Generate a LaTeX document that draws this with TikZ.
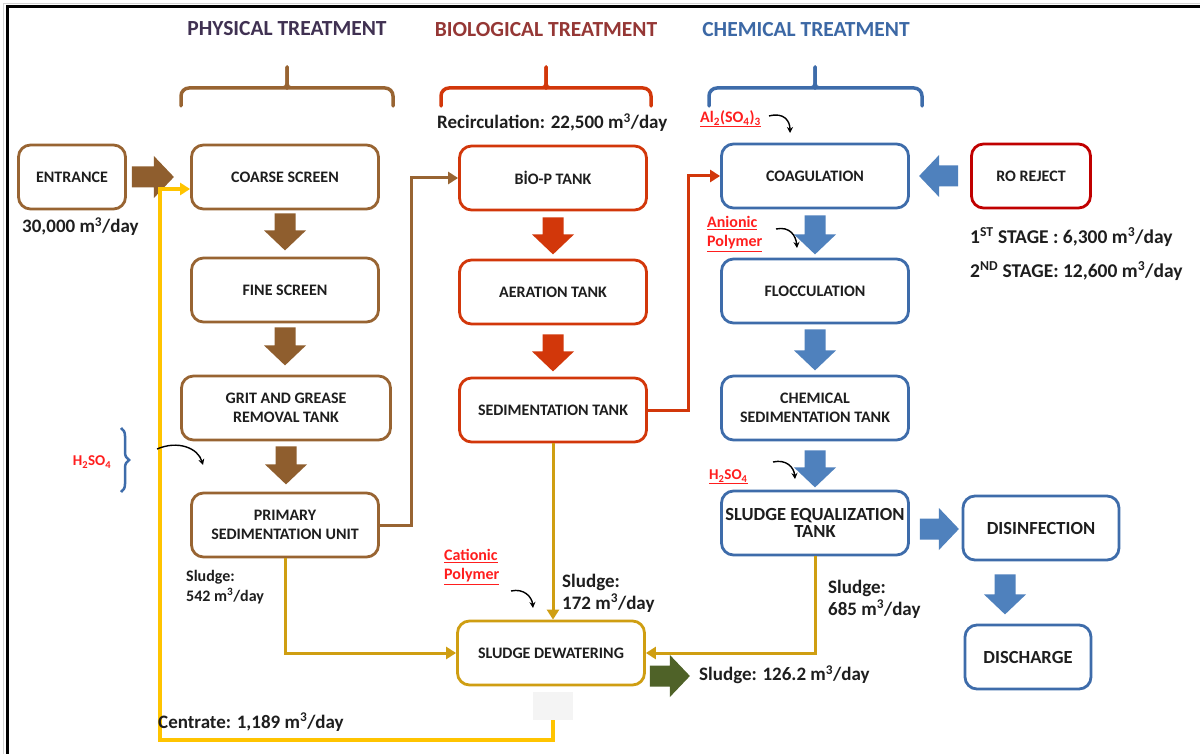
\documentclass[tikz,border=0pt]{standalone}
\usepackage{fontspec}
\setmainfont{Carlito}
\usetikzlibrary{arrows.meta,calc,decorations.pathreplacing}

\definecolor{brn}{RGB}{152,100,50}
\definecolor{brnA}{RGB}{143,94,46}
\definecolor{rd}{RGB}{210,55,10}
\definecolor{blu}{RGB}{62,108,170}
\definecolor{bluA}{RGB}{79,129,189}
\definecolor{roRed}{RGB}{192,0,0}
\definecolor{gold}{RGB}{207,158,18}
\definecolor{yel}{RGB}{255,196,0}
\definecolor{grn}{RGB}{79,98,40}
\definecolor{hphys}{RGB}{64,49,82}
\definecolor{hbio}{RGB}{149,55,53}
\definecolor{hchem}{RGB}{60,104,165}
\definecolor{txt}{RGB}{30,30,30}
\definecolor{chem}{RGB}{255,30,30}

\tikzset{
  pics/blk/.style 2 args={code={
    \fill[#1] (0,-10.5) -- (#2-20,-10.5) -- (#2-20,-21) -- (#2,0) -- (#2-20,21) -- (#2-20,10.5) -- (0,10.5) -- cycle;}},
  box/.style={draw, line width=2.8pt, rounded corners=12pt, minimum width=187pt, minimum height=64pt,
    align=center, font=\bfseries\fontsize{16}{19}\selectfont, text=txt, fill=white, inner sep=2pt},
  bigbox/.style={box, font=\bfseries\fontsize{18.5}{17}\selectfont},
  lbl/.style={font=\bfseries\fontsize{19}{22}\selectfont, text=txt, inner sep=0pt, align=left},
  chemlbl/.style={font=\bfseries\fontsize{16}{19}\selectfont, text=chem, inner sep=0pt, align=left},
  hdr/.style={font=\bfseries\fontsize{21.5}{24}\selectfont, inner sep=0pt},
  brace/.style={line width=3.5pt, line cap=round},
  carr/.style={-{Stealth[length=6pt,width=6pt]}, line width=1.4pt, black},
  flowline/.style={line width=3pt, -{Triangle[length=10pt,width=12pt]}},
}

\begin{document}
\begin{tikzpicture}[x=1pt,y=-1pt]
\useasboundingbox (0,0) rectangle (1200,754);
\fill[white] (0,0) rectangle (1200,754);
% frame
\draw[gray!35, line width=1pt] (3.5,754) -- (3.5,3.5) -- (1200,3.5);
\draw[black, line width=3pt] (7.5,754) -- (7.5,6.5) -- (1200,6.5);

% headers
\node[hdr, text=hphys] (hp) at (287,29) {PHYSICAL TREATMENT};
\node[hdr, text=hbio] (hb) at (546,30) {BIOLOGICAL TREATMENT};
\node[hdr, text=hchem] (hc) at (806,30) {CHEMICAL TREATMENT};

% braces
\draw[brace, brn] (181,106) [rounded corners=8pt] |- (280,88) [rounded corners=4pt] -| (287,67);
\draw[brace, brn] (393,106) [rounded corners=8pt] |- (294,88) [rounded corners=4pt] -| (287,67);
\draw[brace, rd] (441,106) [rounded corners=8pt] |- (539,88) [rounded corners=4pt] -| (546,67);
\draw[brace, rd] (651,106) [rounded corners=8pt] |- (553,88) [rounded corners=4pt] -| (546,67);
\draw[brace, blu] (709,106) [rounded corners=8pt] |- (808,88) [rounded corners=4pt] -| (815,67);
\draw[brace, blu] (922,106) [rounded corners=8pt] |- (822,88) [rounded corners=4pt] -| (815,67);

% boxes
\node[box, draw=brn, minimum width=107pt] (en) at (72,177) {ENTRANCE};
\node[box, draw=brn] (cs) at (285,177) {COARSE SCREEN};
\node[box, draw=brn] (fs) at (285,290) {FINE SCREEN};
\node[box, draw=brn, minimum width=209pt] (gg) at (286,408) {GRIT AND GREASE\\REMOVAL TANK};
\node[box, draw=brn] (ps) at (285,525) {PRIMARY\\SEDIMENTATION UNIT};

\node[box, draw=rd] (bp) at (553,178) {BİO-P TANK};
\node[box, draw=rd] (ae) at (553,292) {AERATION TANK};
\node[box, draw=rd] (st) at (553,410) {SEDIMENTATION TANK};

\node[box, draw=blu] (co) at (815,176) {COAGULATION};
\node[box, draw=roRed, minimum width=119pt] (ro) at (1031,176) {RO REJECT};
\node[box, draw=blu] (fl) at (815,291) {FLOCCULATION};
\node[box, draw=blu] (cst) at (815,408) {CHEMICAL\\SEDIMENTATION TANK};
\node[bigbox, draw=blu] (se) at (815,523) {SLUDGE EQUALIZATION\\TANK};
\node[bigbox, draw=blu, minimum width=156pt] (di) at (1041,528) {DISINFECTION};
\node[bigbox, draw=blu, minimum width=126pt] (dc) at (1028,657) {DISCHARGE};

\node[box, draw=gold] (sd) at (551,653) {SLUDGE DEWATERING};
\node[fill=gray!9, minimum width=40pt, minimum height=28pt, inner sep=0pt] (gsq) at (553,706) {};

% block arrows
\pic at ($(en.east)+(5,0)$) {blk={brnA}{42}};
\pic[rotate=-90] at ($(cs.south)+(0,3)$) {blk={brnA}{37}};
\pic[rotate=-90] at ($(fs.south)+(0,4)$) {blk={brnA}{38}};
\pic[rotate=-90] at ($(gg.south)+(0,5)$) {blk={brnA}{38}};
\pic[rotate=-90] at ($(bp.south)+(0,6)$) {blk={rd}{37}};
\pic[rotate=-90] at ($(ae.south)+(0,9)$) {blk={rd}{37}};
\pic[rotate=-90] at ($(co.south)+(0,6)$) {blk={bluA}{39}};
\pic[rotate=-90] at ($(fl.south)+(0,5)$) {blk={bluA}{41}};
\pic[rotate=-90] at ($(cst.south)+(0,9)$) {blk={bluA}{37}};
\pic[rotate=180] at ($(ro.west)+(-12,0)$) {blk={bluA}{39}};
\pic at ($(se.east)+(10,6)$) {blk={bluA}{39}};
\pic[rotate=-90] at ($(di.south)+(-36,13)$) {blk={bluA}{40}};
\pic at ($(sd.east)+(4,23)$) {blk={grn}{40}};

% flow lines
\draw[flowline, brn] (ps.east) -- ++(32,0) |- (bp.west);
\draw[flowline, rd] (st.east) -- ++(41,0) |- (co.west);
\draw[flowline, gold] (ps.south) |- (sd.west);
\draw[flowline, gold] (st.south) -- (st.south |- sd.north);
\draw[flowline, gold] (se.south) |- (sd.east);
\coordinate (yc) at (160,740);
\draw[flowline, yel, line width=4pt] (gsq.south) |- (yc) |- ($(cs.west)+(0,12)$);

% labels
\node[lbl, anchor=base west] (q0) at (22,233) {30,000 m\textsuperscript{3}/day};
\node[lbl, anchor=base west] (rec) at (437,129) {Recirculation: 22,500 m\textsuperscript{3}/day};
\node[lbl, anchor=base west, font=\bfseries\fontsize{19.5}{22}\selectfont] (s1) at (970,244) {1\textsuperscript{ST} STAGE : 6,300 m\textsuperscript{3}/day};
\node[lbl, anchor=base west, font=\bfseries\fontsize{19.5}{22}\selectfont] (s2) at (970,278) {2\textsuperscript{ND} STAGE: 12,600 m\textsuperscript{3}/day};
\node[lbl, anchor=west, font=\bfseries\fontsize{16}{20}\selectfont] (sl542) at (186,587) {Sludge:\\542 m\textsuperscript{3}/day};
\node[lbl, anchor=west] (sl172) at (562,593) {Sludge:\\172 m\textsuperscript{3}/day};
\node[lbl, anchor=west] (sl685) at (828,599) {Sludge:\\685 m\textsuperscript{3}/day};
\node[lbl, anchor=west] (sl126) at (699,675) {Sludge: 126.2 m\textsuperscript{3}/day};
\node[lbl, anchor=west] (cen) at (158,722) {Centrate: 1,189 m\textsuperscript{3}/day};

% chemicals
\node[chemlbl, anchor=west, font=\bfseries\fontsize{16}{19}\selectfont] (al) at (700,119) {\underline{Al\textsubscript{2}(SO\textsubscript{4})\textsubscript{3}}};
\node[chemlbl, anchor=west] (an) at (707,234) {\underline{Anionic}\\\underline{Polymer}};
\node[chemlbl, anchor=west, font=\bfseries\fontsize{15}{18}\selectfont] (h2b) at (709,477) {\underline{H\textsubscript{2}SO\textsubscript{4}}};
\node[chemlbl, anchor=west] (cat) at (444,567) {\underline{Cationic}\\\underline{Polymer}};
\node[chemlbl, font=\bfseries\fontsize{15}{18}\selectfont] (h2a) at (92,462) {H\textsubscript{2}SO\textsubscript{4}};

\draw[blu, line width=2.5pt, decorate, decoration={brace, amplitude=8pt}] (121,428) -- (121,492);

\coordinate (c1s) at (157,449); \coordinate (c1e) at (203,465);
\draw[carr] (c1s) .. controls (178,440) and (198,448) .. (c1e);
\coordinate (c2s) at (769,116); \coordinate (c2e) at (790,133);
\draw[carr] (c2s) .. controls (784,112) and (790,121) .. (c2e);
\coordinate (c3s) at (776,229); \coordinate (c3e) at (797,248);
\draw[carr] (c3s) .. controls (790,226) and (796,236) .. (c3e);
\coordinate (c4s) at (773,462); \coordinate (c4e) at (795,479);
\draw[carr] (c4s) .. controls (786,459) and (794,467) .. (c4e);
\coordinate (c5s) at (511,591); \coordinate (c5e) at (533,608);
\draw[carr] (c5s) .. controls (524,588) and (532,597) .. (c5e);
\end{tikzpicture}
\end{document}
